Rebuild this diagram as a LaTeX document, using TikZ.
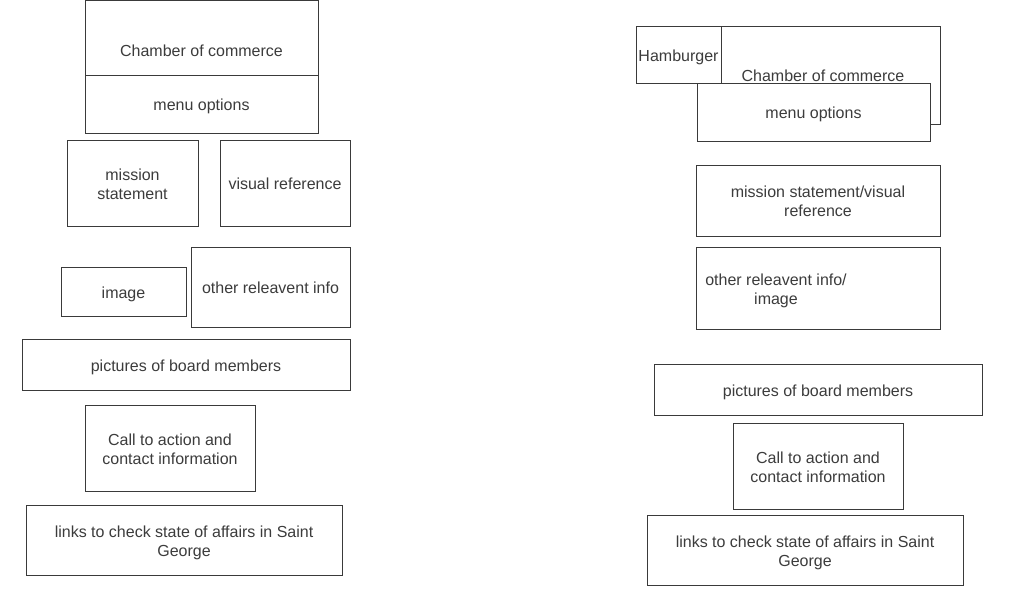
\documentclass[tikz,border=0pt]{standalone}
\usepackage{fontspec}
\setmainfont{Liberation Sans}
\definecolor{linec}{HTML}{3A3A3A}
\definecolor{textc}{HTML}{3C3C3C}
\tikzset{
  lbl/.style={inner sep=0pt, text=textc, align=center, font=\fontsize{16}{19}\selectfont,
    execute at begin node={\rule{0pt}{#1}},
    execute at end node={\rule[-4pt]{0pt}{4pt}}},
  lbl/.default=17pt,
  box/.style={lbl=#1, draw=linec, line width=1pt, fill=white, rectangle},
  box/.default=17pt
}
\begin{document}
\begin{tikzpicture}[x=1pt,y=-1pt]
\useasboundingbox (0,0) rectangle (1024,600);
% left column
\node[box, minimum width=233pt, minimum height=74.5pt] (lcham) at (201.5,37.75) {};
\node[lbl] (lchamt) at (201.5,50) {Chamber of commerce};
\node[box, minimum width=233pt, minimum height=58pt] (lmenu) at (201.5,104) {menu options};
\node[box=36pt, minimum width=131pt, minimum height=86pt] (lmiss) at (132.5,183) {mission\\statement};
\node[box, minimum width=130pt, minimum height=86pt] (lvis) at (285,183) {visual reference};
\node[box, minimum width=125pt, minimum height=49pt] (limg) at (123.5,291.5) {image};
\node[box, minimum width=159pt, minimum height=80pt] (loth) at (270.5,287) {other releavent info};
\node[box, minimum width=328pt, minimum height=51pt] (lpic) at (186,364.5) {pictures of board members};
\node[box=36pt, minimum width=170pt, minimum height=86pt] (lcall) at (170,448) {Call to action and\\contact information};
\node[box=36pt, minimum width=316pt, minimum height=70pt] (llinks) at (184,540) {links to check state of affairs in Saint\\George};
% right column
\node[box, minimum width=234pt, minimum height=98pt] (rcham) at (823,75) {Chamber of commerce};
\node[box, minimum width=85pt, minimum height=57pt] (rham) at (678.5,54.5) {Hamburger};
\node[box, minimum width=233pt, minimum height=58pt] (rmenu) at (813.5,112) {menu options};
\node[box=36pt, minimum width=244pt, minimum height=71pt] (rmiss) at (818,200.5) {mission statement/visual\\reference};
\node[box, minimum width=244pt, minimum height=82pt] (roth) at (818,288) {};
\node[lbl=36pt] (rotht) at (776,288.5) {other releavent info/\\image};
\node[box, minimum width=328pt, minimum height=51pt] (rpic) at (818,389.5) {pictures of board members};
\node[box=36pt, minimum width=170pt, minimum height=86pt] (rcall) at (818,466) {Call to action and\\contact information};
\node[box=36pt, minimum width=316pt, minimum height=70pt] (rlinks) at (805,550) {links to check state of affairs in Saint\\George};
\end{tikzpicture}
\end{document}
